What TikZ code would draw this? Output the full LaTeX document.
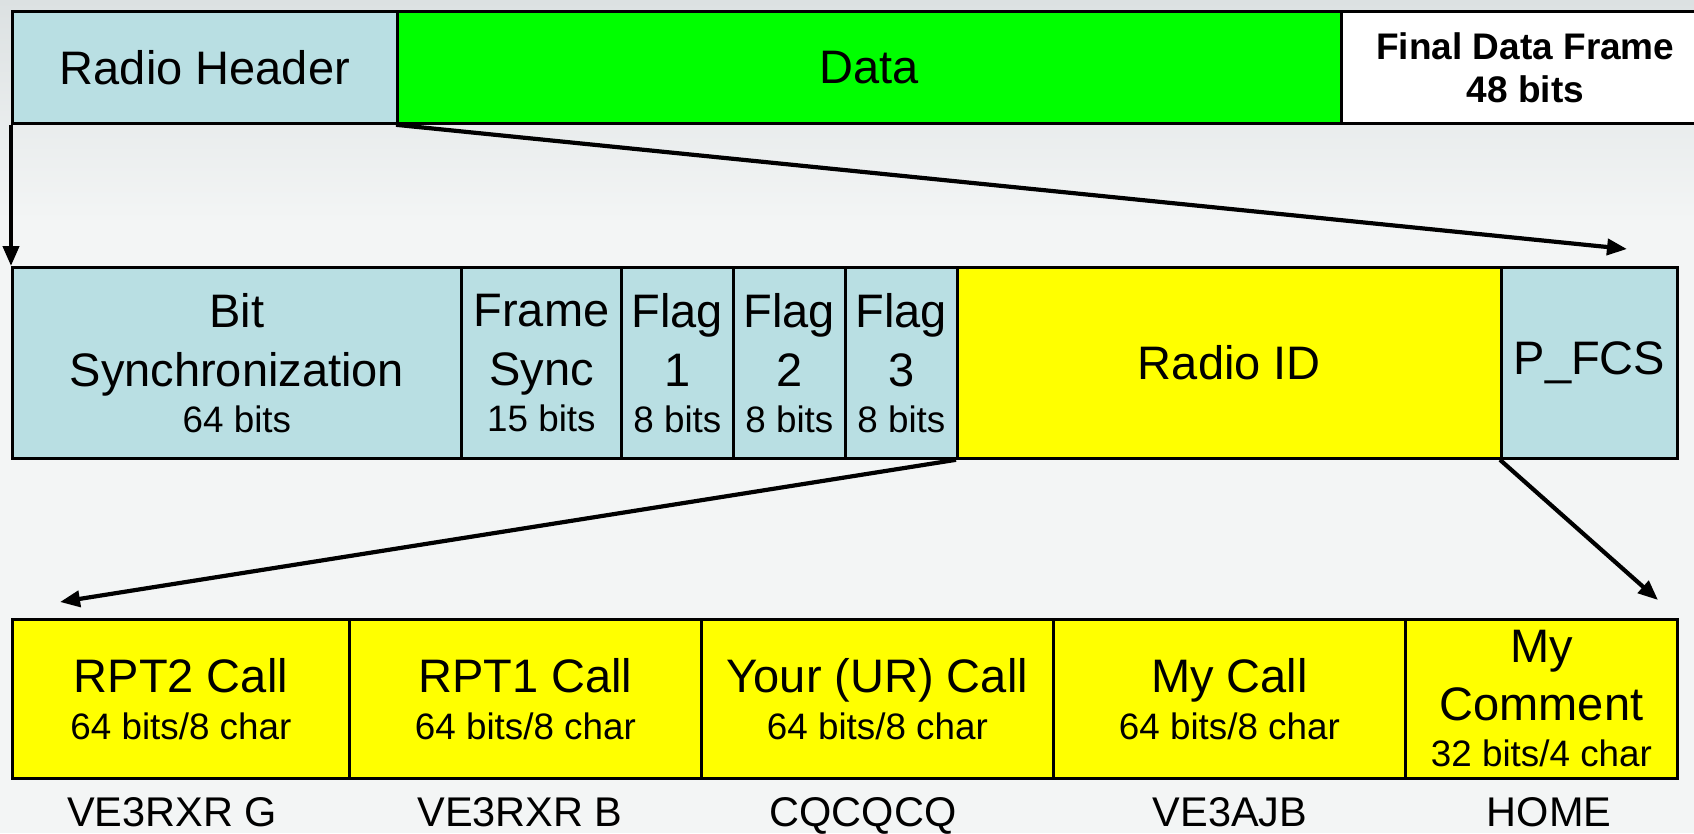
\documentclass[tikz,border=0pt]{standalone}
\usepackage{fontspec}
\setmainfont{Liberation Sans}
\usetikzlibrary{arrows.meta}
\definecolor{lblue}{HTML}{B9DFE3}
\definecolor{bggrey}{HTML}{F3F5F5}
\definecolor{bgtop}{HTML}{DCE1E2}
\definecolor{dgreen}{HTML}{00FF00}
\definecolor{yell}{HTML}{FFFF00}
\newcommand\fmain{\fontsize{47}{58}\selectfont}
\newcommand\fsub{\fontsize{36.8}{46}\selectfont}
\newcommand\flab{\fontsize{41.5}{50}\selectfont}
\newcommand\fbold{\bfseries\fontsize{37}{43}\selectfont}
\begin{document}
\begin{tikzpicture}[x=1pt,y=-1pt,
  cell/.style={draw=black, line width=2.8pt, inner sep=0pt, anchor=north west,
    align=center, font=\fmain},
  toprow/.style={cell, minimum height=112pt},
  midrow/.style={cell, minimum height=191pt, font=\fontsize{47}{59}\selectfont},
  botrow/.style={cell, minimum height=159pt, fill=yell},
  lab/.style={anchor=base, font=\flab, inner sep=0pt},
  arr/.style={draw=black, line width=4.2pt, -{Triangle[length=20pt,width=16pt]}}]
\useasboundingbox (0,0) rectangle (1694,833);
\clip (0,0) rectangle (1694,833);
\fill[bggrey] (0,0) rectangle (1694,833);
\shade[top color=bgtop, bottom color=bggrey] (0,0) rectangle (1694,220);
% top row
\node[toprow, fill=lblue, minimum width=385pt] (rh) at (11,10) {Radio Header};
\node[toprow, fill=dgreen, minimum width=944pt] (data) at (396,10) {Data};
\node[toprow, fill=white, minimum width=368pt, font=\fbold] (fdf) at (1340,10) {Final Data Frame\\48 bits};
% middle row
\node[midrow, fill=lblue, minimum width=449pt] (bs) at (11,266) {Bit\\Synchronization\\[-13pt]{\fsub 64 bits}};
\node[midrow, fill=lblue, minimum width=160pt] (fs) at (460,266) {Frame\\Sync\\[-13pt]{\fsub 15 bits}};
\node[midrow, fill=lblue, minimum width=112pt] (f1) at (620,266) {Flag\\1\\[-13pt]{\fsub 8 bits}};
\node[midrow, fill=lblue, minimum width=112pt] (f2) at (732,266) {Flag\\2\\[-13pt]{\fsub 8 bits}};
\node[midrow, fill=lblue, minimum width=112pt] (f3) at (844,266) {Flag\\3\\[-13pt]{\fsub 8 bits}};
\node[midrow, fill=yell, minimum width=544pt] (rid) at (956,266) {Radio ID};
\node[midrow, fill=lblue, minimum width=176pt] (pfcs) at (1500,266) {P\_FCS};
% bottom row
\node[botrow, minimum width=337pt] (r2) at (11,618) {RPT2 Call\\[-11pt]{\fsub 64 bits/8 char}};
\node[botrow, minimum width=352pt] (r1) at (348,618) {RPT1 Call\\[-11pt]{\fsub 64 bits/8 char}};
\node[botrow, minimum width=352pt] (ur) at (700,618) {Your (UR) Call\\[-11pt]{\fsub 64 bits/8 char}};
\node[botrow, minimum width=352pt] (my) at (1052,618) {My Call\\[-11pt]{\fsub 64 bits/8 char}};
\node[botrow, minimum width=272pt] (mc) at (1404,618) {My\\Comment\\[-12pt]{\fsub 32 bits/4 char}};
% labels
\node[lab] (l1) at (172,826) {VE3RXR G};
\node[lab] (l2) at (520,826) {VE3RXR B};
\node[lab] (l3) at (863,826) {CQCQCQ};
\node[lab] (l4) at (1230,826) {VE3AJB};
\node[lab] (l5) at (1549,826) {HOME};
% arrows
\coordinate (tA) at (1627,249);
\coordinate (tB) at (60,602);
\coordinate (tC) at (1658,600);
\draw[arr] (rh.south west) -- (bs.north west);
\draw[arr] (data.south west) -- (tA);
\draw[arr] (rid.south west) -- (tB);
\draw[arr] (pfcs.south west) -- (tC);
\end{tikzpicture}
\end{document}
